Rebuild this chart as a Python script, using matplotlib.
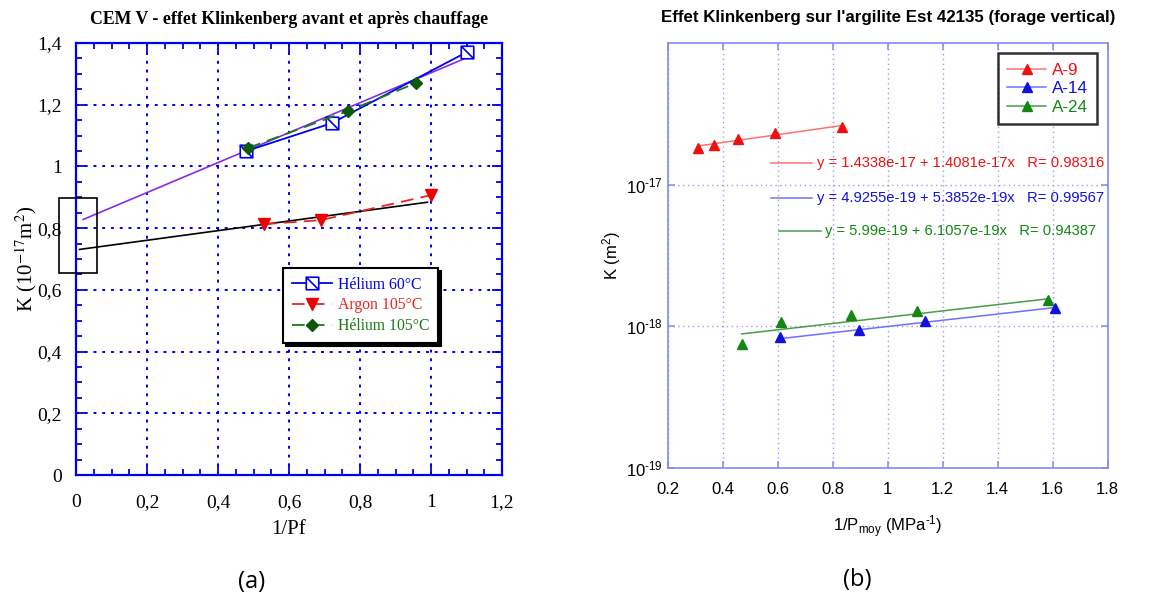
import matplotlib
matplotlib.use("Agg")
import matplotlib.pyplot as plt
import numpy as np
from matplotlib.path import Path
from matplotlib.lines import Line2D
from matplotlib.patches import Rectangle
from matplotlib.ticker import MultipleLocator, FuncFormatter, NullLocator

plt.rcParams["mathtext.fontset"] = "custom"
plt.rcParams["mathtext.rm"] = "Liberation Sans"
plt.rcParams["mathtext.it"] = "Liberation Sans:italic"

# ---------------- data (a) ----------------
he60_x = [0.48, 0.72, 1.10]
he60_k = [1.05, 1.14, 1.37]
ar105_x = [0.53, 0.69, 1.00]
ar105_k = [0.813, 0.826, 0.907]
he105_x = [0.485, 0.767, 0.957]
he105_k = [1.06, 1.18, 1.27]
fit_he_x = [0.02, 1.10]
fit_he_k = [0.828, 1.352]
fit_ar_x = [0.01, 0.99]
fit_ar_k = [0.731, 0.884]
labels_a = ["Hélium 60°C", "Argon 105°C", "Hélium 105°C"]
xticks_a = [0, 0.2, 0.4, 0.6, 0.8, 1.0, 1.2]
yticks_a = [0, 0.2, 0.4, 0.6, 0.8, 1.0, 1.2, 1.4]

# ---------------- data (b) ----------------
a9_x = [0.311, 0.369, 0.457, 0.591, 0.834]
a9_k = [1.816e-17, 1.906e-17, 2.10e-17, 2.31e-17, 2.54e-17]
a14_x = [0.608, 0.896, 1.136, 1.609]
a14_k = [8.36e-19, 9.42e-19, 1.096e-18, 1.353e-18]
a24_x = [0.469, 0.612, 0.867, 1.107, 1.582]
a24_k = [7.50e-19, 1.067e-18, 1.20e-18, 1.288e-18, 1.53e-18]
fit_a9 = (1.4338e-17, 1.4081e-17)
fit_a14 = (4.9255e-19, 5.3852e-19)
fit_a24 = (5.99e-19, 6.1057e-19)
eq_texts = ["y = 1.4338e-17 + 1.4081e-17x   R= 0.98316",
            "y = 4.9255e-19 + 5.3852e-19x   R= 0.99567",
            "y = 5.99e-19 + 6.1057e-19x   R= 0.94387"]
labels_b = ["A-9", "A-14", "A-24"]
xticks_b = [0.2, 0.4, 0.6, 0.8, 1.0, 1.2, 1.4, 1.6, 1.8]
yticks_b = [1e-19, 1e-18, 1e-17]
ytick_labels_b = ["10$^{\\text{-19}}$", "10$^{\\text{-18}}$", "10$^{\\text{-17}}$"]

W, H = 1168, 599
fig = plt.figure(figsize=(W / 100, H / 100), dpi=100)

def px_axes(x0, y0, x1, y1):
    return fig.add_axes([x0 / W, 1 - y1 / H, (x1 - x0) / W, (y1 - y0) / H])

serif = "Liberation Serif"
sans = "Liberation Sans"

# ================= (a) =================
ax = px_axes(76, 43, 502, 475)
blue = "#0000ee"
sq_marker = Path([(-1, -1), (1, -1), (1, 1), (-1, 1), (-1, -1), (-1, 1), (1, -1)],
                 [Path.MOVETO, Path.LINETO, Path.LINETO, Path.LINETO, Path.CLOSEPOLY,
                  Path.MOVETO, Path.LINETO])

ax.plot(fit_he_x, fit_he_k, color="#8a2be2", lw=1.2, zorder=3)
ax.plot(fit_ar_x, fit_ar_k, color="black", lw=1.2, zorder=3)
l1, = ax.plot(he60_x, he60_k, color=blue, lw=1.3, marker=sq_marker, ms=9,
              mfc="white", mec=blue, mew=1.2, zorder=4)
l2, = ax.plot(ar105_x, ar105_k, color="#ee2222", lw=1.3, ls=(0, (7, 4)), marker="v",
              ms=8, mfc="#ee0000", mec="#ee0000", zorder=4)
l3, = ax.plot(he105_x, he105_k, color="#1a7a1a", lw=1.3, ls=(0, (7, 4)), marker="D",
              ms=6, mfc="#0a5a0a", mec="#0a5a0a", zorder=4)

ax.set_xlim(0, 1.2)
ax.set_ylim(0, 1.4)
ax.set_xticks(xticks_a)
ax.set_yticks(yticks_a)
ax.xaxis.set_minor_locator(MultipleLocator(0.05))
ax.yaxis.set_minor_locator(MultipleLocator(0.05))
fmt = FuncFormatter(lambda v, p: ("%g" % round(v, 2)).replace(".", ","))
ax.xaxis.set_major_formatter(fmt)
ax.yaxis.set_major_formatter(fmt)
ax.tick_params(which="both", direction="in", top=True, right=True, color=blue,
               labelsize=14, labelfontfamily=serif, width=1.3)
ax.tick_params(which="major", length=7)
ax.tick_params(axis="x", which="major", pad=14)
ax.tick_params(axis="y", which="major", pad=10)
ax.tick_params(which="minor", length=4)
for s in ax.spines.values():
    s.set_color(blue)
    s.set_linewidth(1.6)
ax.grid(True, which="major", color=blue, ls=(0, (1.5, 3)), lw=1.4)
ax.set_axisbelow(True)

ax.set_title("CEM V - effet Klinkenberg avant et après chauffage", fontfamily=serif,
             fontweight="bold", fontsize=12.8, pad=14)
ax.set_xlabel("1/Pf", fontfamily=serif, fontsize=15, labelpad=6)
yl = ax.set_ylabel("K (10$^{-17}$m$^{2}$)", fontfamily=serif, fontsize=15)
yl.set_math_fontfamily("stix")
ax.yaxis.set_label_coords(-0.088, 0.5)

rect = Rectangle((-0.047, 0.656), 0.107, 0.243, fill=False, ec="black", lw=1.2,
                 clip_on=False, zorder=5)
ax.add_patch(rect)

leg = ax.legend([l1, l2, l3], labels_a, loc="upper left",
                bbox_to_anchor=(0.486, 0.479),
                prop={"family": serif, "size": 11.3}, frameon=True, fancybox=False,
                edgecolor="black", shadow={"color": "black", "alpha": 1},
                borderpad=0.55, labelspacing=0.3, handlelength=2.6, handletextpad=0.35,
                borderaxespad=0)
leg.get_frame().set_linewidth(1.5)
for t, c in zip(leg.get_texts(), [blue, "#ee2222", "#1a7a1a"]):
    t.set_color(c)

fig.text(252 / W, 1 - 582 / H, "(a)", fontfamily="Open Sans", fontsize=17,
         ha="center", va="center")

# ================= (b) =================
bx = px_axes(667.7, 42.7, 1107.7, 468.3)
lb = "#8888ee"
red, blu, grn = "#ee1111", "#1111dd", "#118811"

def fitline(x, ab):
    x = np.array([min(x), max(x)])
    return x, ab[0] + ab[1] * x

for xs, ks, ab, c, lc in [(a9_x, a9_k, fit_a9, red, "#ff7070"),
                          (a14_x, a14_k, fit_a14, blu, "#7070ff"),
                          (a24_x, a24_k, fit_a24, grn, "#4c9a4c")]:
    fx, fy = fitline(xs, ab)
    bx.plot(fx, fy, color=lc, lw=1.1, zorder=3)
    bx.plot(xs, ks, ls="none", marker="^", ms=7, color=c, zorder=4)

bx.set_yscale("log")
bx.set_xlim(0.2, 1.8)
bx.set_ylim(1e-19, 1e-16)
bx.set_xticks(xticks_b)
bx.set_xticklabels(["%g" % v for v in xticks_b])
bx.set_yticks(yticks_b)
bx.set_yticklabels(ytick_labels_b)
bx.yaxis.set_minor_locator(NullLocator())
bx.tick_params(which="both", direction="in", top=True, right=True, color=lb,
               labelsize=12, labelfontfamily=sans, length=5, width=1.1)
bx.tick_params(axis="x", pad=10)
for s in bx.spines.values():
    s.set_color(lb)
    s.set_linewidth(1.2)
bx.grid(True, which="major", color="#9a9aee", ls=(0, (1, 2.5)), lw=1.0)
bx.set_axisbelow(True)

bx.set_title("Effet Klinkenberg sur l'argilite Est 42135 (forage vertical)",
             fontfamily=sans, fontweight="bold", fontsize=12.2, pad=15)
bx.set_xlabel("1/P$_{\\rm moy}$ (MPa$^{\\text{-1}}$)", fontfamily=sans, fontsize=12, labelpad=12)
bx.set_ylabel("K (m$^{2}$)", fontfamily=sans, fontsize=12, labelpad=2)

hb = [Line2D([], [], color=lc, lw=1.1, marker="^", ms=7, mfc=c, mec=c)
      for c, lc in [(red, "#ff7070"), (blu, "#7070ff"), (grn, "#4c9a4c")]]
legb = bx.legend(hb, labels_b, loc="upper left",
                 bbox_to_anchor=((997.7 - 667.7) / 440, (468.3 - 53.3) / 425.6),
                 prop={"family": sans, "size": 12.3}, frameon=True, fancybox=False,
                 edgecolor="black", borderpad=0.55, labelspacing=0.2,
                 handlelength=2.3, handletextpad=0.3, borderaxespad=0)
legb.get_frame().set_linewidth(1.8)
for t, c in zip(legb.get_texts(), [red, blu, grn]):
    t.set_color(c)

# fit-equation annotations (pixel coordinates converted to axes fraction)
def axfrac(px, py):
    return (px - 667.7) / 440, (468.3 - py) / 425.6

for (x0, x1, xt, yy), txt, c, lc in zip(
        [(771, 812.3, 816.7, 163.3), (771, 812.3, 816.7, 198.3), (779.3, 820.7, 825, 231)],
        eq_texts, [red, blu, grn], ["#ff7070", "#7070ff", "#4c9a4c"]):
    a0 = axfrac(x0, yy)
    a1 = axfrac(x1, yy)
    bx.plot([a0[0], a1[0]], [a0[1], a1[1]], transform=bx.transAxes, color=lc, lw=1.1,
            clip_on=False)
    at = axfrac(xt, yy)
    bx.text(at[0], at[1], txt, transform=bx.transAxes, color=c, fontfamily=sans,
            fontsize=10.6, ha="left", va="center")

fig.text(857 / W, 1 - 580 / H, "(b)", fontfamily="Open Sans", fontsize=17,
         ha="center", va="center")

fig.savefig("out.png", dpi=100)
